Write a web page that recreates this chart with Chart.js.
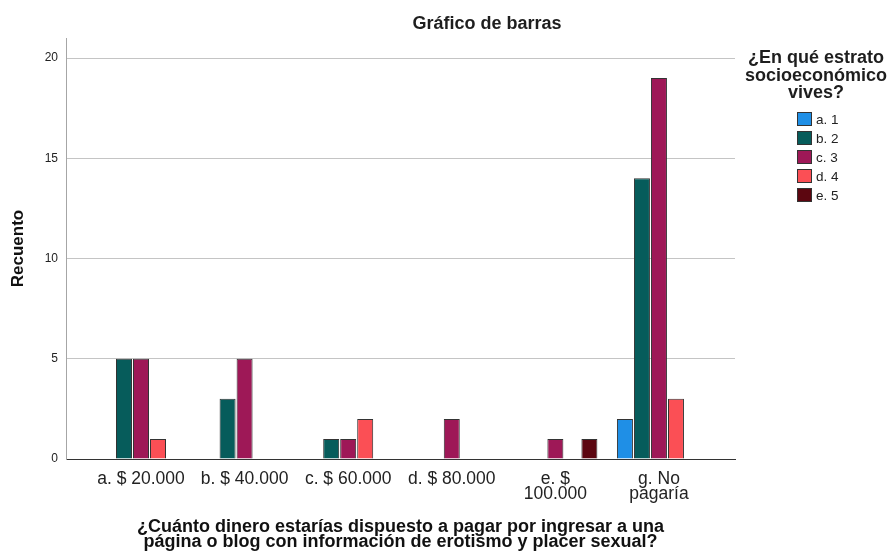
<!DOCTYPE html>
<html>
<head>
<meta charset="utf-8">
<script src="https://cdn.jsdelivr.net/npm/chart.js@4.4.1/dist/chart.umd.min.js"></script>
<style>
  body { margin: 0; background: #fff; }
  #wrap { position: relative; width: 895px; height: 560px; font-family: "Liberation Sans", Arial, sans-serif; color: #1e1e1e; }
  #titulo { position: absolute; left: 387px; top: 12px; width: 200px; text-align: center; font-weight: bold; font-size: 18px; line-height: 22px; }
  #leyenda { position: absolute; left: 737px; top: 49px; width: 158px; }
  #leyenda .lt { text-align: center; font-weight: bold; font-size: 18px; line-height: 17.5px; }
  #items { list-style: none; margin: 8px 0 0 60px; padding: 0; }
  #items li { font-size: 13.5px; height: 19px; display: flex; align-items: center; color: #222; }
  #items li span { display: inline-block; width: 13px; height: 12px; border: 1px solid #333; margin-right: 4px; }
</style>
</head>
<body>
<div id="wrap">
  <canvas id="grafico" width="895" height="560"></canvas>
  <div id="titulo">Gráfico de barras</div>
  <div id="leyenda">
    <div class="lt">¿En qué estrato<br>socioeconómico<br>vives?</div>
    <ul id="items"></ul>
  </div>
</div>
<script>
// categorias del eje x y recuentos por estrato
var categorias = ['a. $ 20.000', 'b. $ 40.000', 'c. $ 60.000', 'd. $ 80.000', ['e. $', '100.000'], ['g. No', 'pagaría']];
var estratos = ['a. 1', 'b. 2', 'c. 3', 'd. 4', 'e. 5'];
var estrato1 = [0, 0, 0, 0, 0, 2];
var estrato2 = [5, 3, 1, 0, 0, 14];
var estrato3 = [5, 5, 1, 2, 1, 19];
var estrato4 = [1, 0, 2, 0, 0, 3];
var estrato5 = [0, 0, 0, 0, 1, 0];
var ticksY = [0, 5, 10, 15, 20];

var colores = ['#1f8fe6', '#065c5b', '#9e1857', '#fb4f55', '#5c0610'];
var fuente = '"Liberation Sans", Arial, sans-serif';

var series = [estrato1, estrato2, estrato3, estrato4, estrato5];
var datasets = series.map(function (vals, i) {
  return {
    label: estratos[i],
    data: vals,
    backgroundColor: colores[i],
    borderColor: '#333',
    borderWidth: 1,
    categoryPercentage: 0.821,
    barPercentage: 0.94
  };
});

var grafico = new Chart(document.getElementById('grafico'), {
  type: 'bar',
  data: {
    labels: categorias.map(function (c, i) { return i; }),
    datasets: datasets
  },
  options: {
    responsive: false,
    animation: false,
    layout: { padding: { top: 38, right: 160, bottom: 0, left: 0 } },
    plugins: {
      legend: { display: false },
      tooltip: { enabled: false }
    },
    scales: {
      x: {
        type: 'linear',
        offset: false,
        min: -0.724,
        max: 5.734,
        afterFit: function (s) { s.height = 101; },
        afterBuildTicks: function (s) {
          s.ticks = categorias.map(function (c, i) { return { value: i }; });
        },
        grid: { display: false, offset: false },
        border: { display: true, color: '#333', width: 1 },
        ticks: {
          autoSkip: false,
          maxRotation: 0,
          padding: 5,
          color: '#222',
          font: { family: fuente, size: 17.5, lineHeight: '15px' },
          callback: function (v) { return categorias[v]; }
        },
        title: {
          display: true,
          text: ['¿Cuánto dinero estarías dispuesto a pagar por ingresar a una', 'página o blog con información de erotismo y placer sexual?'],
          color: '#111',
          font: { family: fuente, size: 18, weight: 'bold', lineHeight: '15px' },
          padding: { top: 0, bottom: 10 }
        }
      },
      y: {
        min: 0,
        max: 21,
        afterFit: function (s) { s.width = 66; },
        afterBuildTicks: function (s) {
          s.ticks = ticksY.map(function (v) { return { value: v }; });
        },
        grid: { color: '#c4c4c4', drawTicks: false },
        border: { display: true, color: '#a6a6a6', width: 1 },
        ticks: {
          padding: 8,
          color: '#222',
          font: { family: fuente, size: 12 }
        },
        title: {
          display: true,
          text: 'Recuento',
          color: '#111',
          font: { family: fuente, size: 17, weight: 'bold' },
          padding: { top: 8, bottom: 0 }
        }
      }
    }
  }
});

// leyenda en html a partir de los datasets
var lista = document.getElementById('items');
grafico.data.datasets.forEach(function (ds) {
  var li = document.createElement('li');
  li.innerHTML = '<span style="background:' + ds.backgroundColor + '"></span>' + ds.label;
  lista.appendChild(li);
});
</script>
</body>
</html>
